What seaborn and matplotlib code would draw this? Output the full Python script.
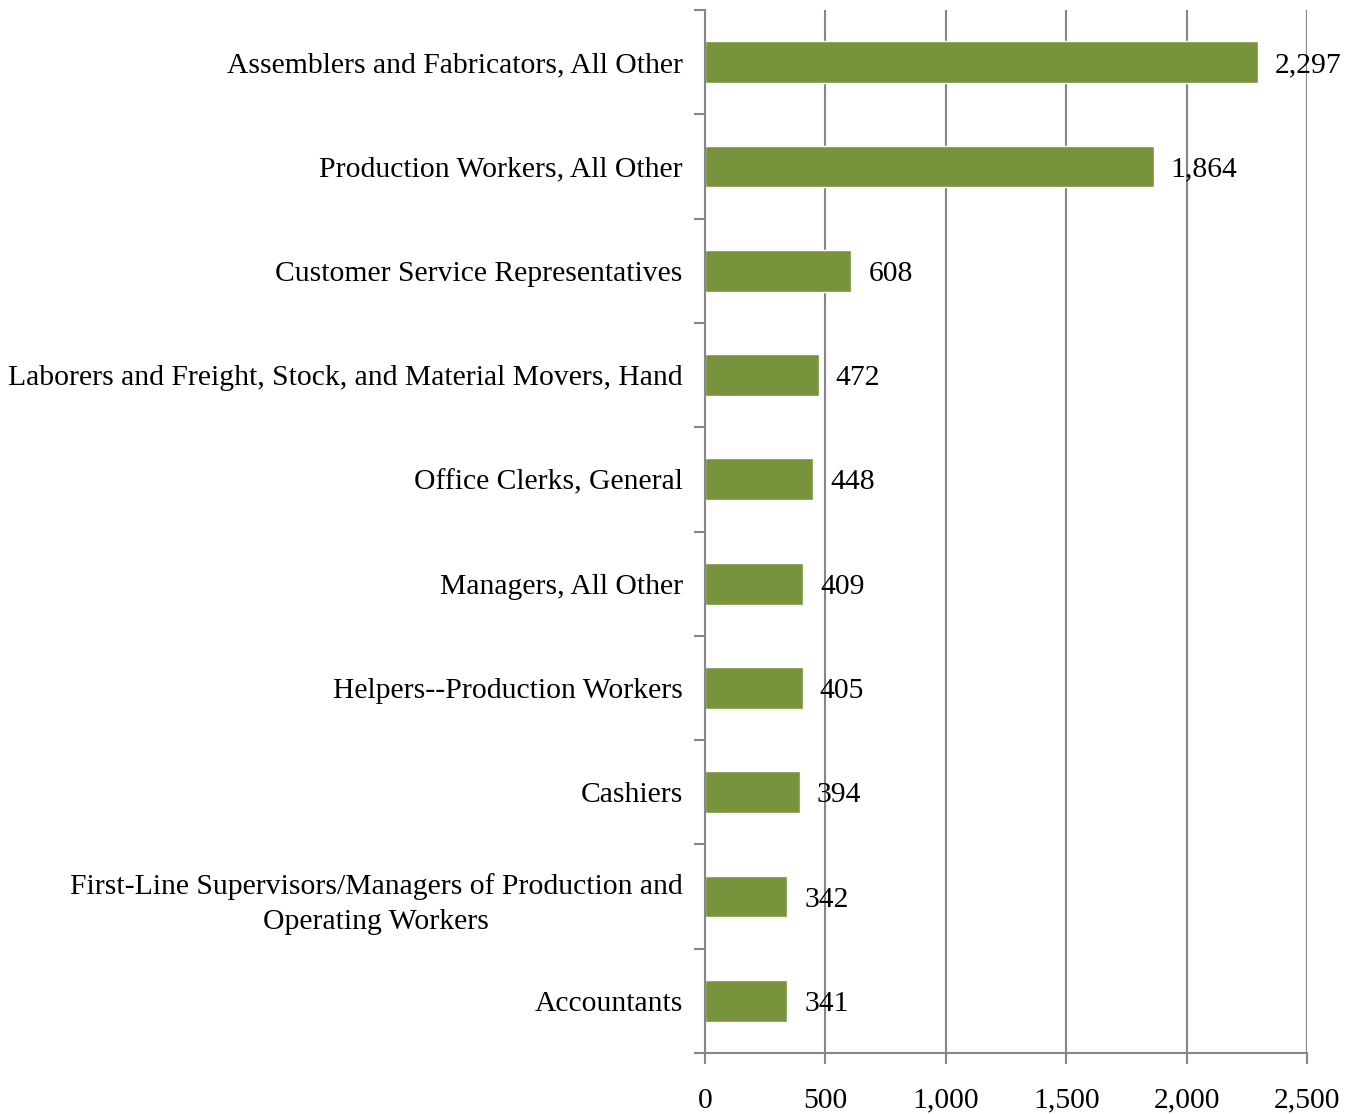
import matplotlib
matplotlib.use("Agg")
import matplotlib.pyplot as plt
import seaborn as sns
import pandas as pd
from matplotlib.ticker import FixedLocator, FuncFormatter

categories = [
    "Assemblers and Fabricators, All Other",
    "Production Workers, All Other",
    "Customer Service Representatives",
    "Laborers and Freight, Stock, and Material Movers, Hand",
    "Office Clerks, General",
    "Managers, All Other",
    "Helpers--Production Workers",
    "Cashiers",
    "First-Line Supervisors/Managers of Production and\nOperating Workers",
    "Accountants",
]
values = [2297, 1864, 608, 472, 448, 409, 405, 394, 342, 341]
x_ticks = [0, 500, 1000, 1500, 2000, 2500]

sns.set_theme(style="white")
plt.rcParams["font.family"] = ["Liberation Serif", "DejaVu Serif"]

FS = 21.3
GRAY = "#868686"
BAR = "#77933C"

df = pd.DataFrame({"cat": categories, "val": values})

fig = plt.figure(figsize=(13.66, 11.14), dpi=100)
ax = fig.add_axes([705 / 1366, 1 - 1053 / 1114, (1307 - 705) / 1366, (1053 - 10) / 1114])

sns.barplot(data=df, x="val", y="cat", color=BAR, saturation=1, width=0.4, ax=ax, zorder=2)

ax.set_xlim(0, 2500)
ax.set_ylim(len(categories) - 0.5, -0.5)
ax.set_xticks(x_ticks)
ax.xaxis.set_major_formatter(FuncFormatter(lambda v, p: f"{int(v):,}"))
ax.grid(axis="x", color=GRAY, linewidth=1.5, zorder=0)
ax.grid(axis="y", visible=False)
ax.set_axisbelow(True)

for side in ["top", "right"]:
    ax.spines[side].set_visible(False)
for side in ["left", "bottom"]:
    ax.spines[side].set_color(GRAY)
    ax.spines[side].set_linewidth(1.5)

ax.yaxis.set_minor_locator(FixedLocator([i - 0.5 for i in range(len(categories) + 1)]))
ax.tick_params(axis="y", which="major", length=0, pad=16, labelsize=FS, labelcolor="black")
ax.tick_params(axis="y", which="minor", length=8, width=1.5, color=GRAY, left=True)
ax.tick_params(axis="x", which="major", length=8, width=1.5, color=GRAY, bottom=True,
               pad=17, labelsize=FS, labelcolor="black")
for lbl in ax.get_yticklabels():
    lbl.set_multialignment("center")
    lbl.set_linespacing(1.45)
    lbl.set_verticalalignment("center_baseline")

ax.set_xlabel("")
ax.set_ylabel("")

for i, v in enumerate(values):
    ax.annotate(f"{v:,}", xy=(v, i), xytext=(17, 0), textcoords="offset pixels",
                ha="left", va="center_baseline", fontsize=FS, color="black", zorder=5)

fig.savefig("out.png", dpi=100, facecolor="white")
